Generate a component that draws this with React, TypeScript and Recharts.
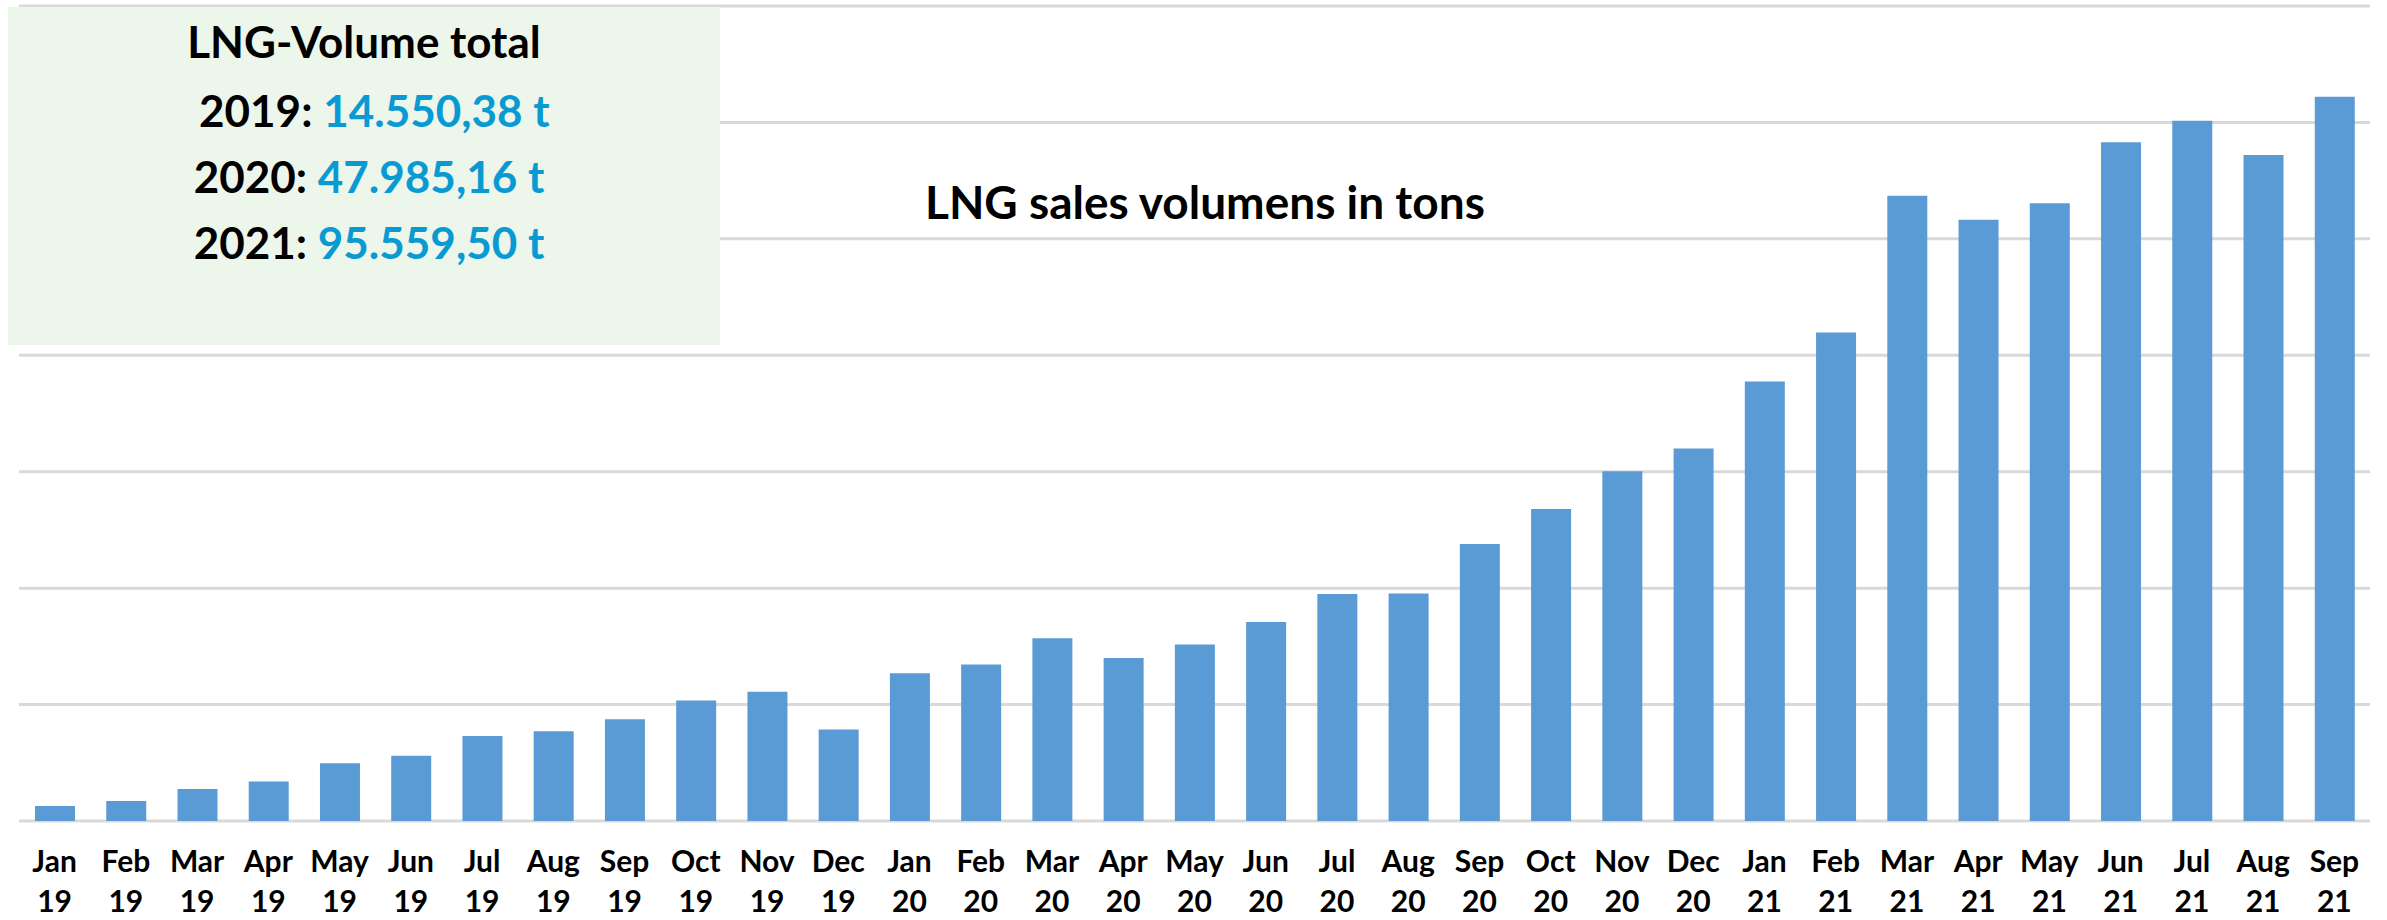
import React from 'react';
import { BarChart, Bar, XAxis, YAxis, CartesianGrid } from 'recharts';

const months = ['Jan', 'Feb', 'Mar', 'Apr', 'May', 'Jun', 'Jul', 'Aug', 'Sep', 'Oct', 'Nov', 'Dec'];

// monthly LNG sales in tons
const volumes2019 = [258, 344, 550, 680, 990, 1120, 1460, 1540, 1750, 2070, 2220, 1570];
const volumes2020 = [2540, 2690, 3140, 2800, 3030, 3420, 3900, 3910, 4760, 5360, 6010, 6400];
const volumes2021 = [7550, 8390, 10740, 10330, 10610, 11660, 12030, 11440, 12440];

const yearTotals = [
  { year: '2019', total: '14.550,38 t', lead: ' ' },
  { year: '2020', total: '47.985,16 t', lead: '' },
  { year: '2021', total: '95.559,50 t', lead: '' },
];

const yTicks = [0, 2000, 4000, 6000, 8000, 10000, 12000, 14000];

const data = [
  ...volumes2019.map((v, i) => ({ label: `${months[i]} 19`, tons: v })),
  ...volumes2020.map((v, i) => ({ label: `${months[i]} 20`, tons: v })),
  ...volumes2021.map((v, i) => ({ label: `${months[i]} 21`, tons: v })),
];

const FONT = 'Lato, "Open Sans", sans-serif';
const BLUE = '#0a9ad3';

function MonthTick(props: any) {
  const { x, y, payload } = props;
  const [m, yr] = String(payload.value).split(' ');
  return (
    <text
      x={x}
      textAnchor="middle"
      fontFamily={FONT}
      fontWeight={700}
      fontSize={30}
      fill="#000"
    >
      <tspan x={x} y={y + 51}>{m}</tspan>
      <tspan x={x} y={y + 91}>{yr}</tspan>
    </text>
  );
}

export default function App() {
  return (
    <div style={{ position: 'fixed', left: 0, top: 0, width: 2387, height: 920, background: '#fff' }}>
      <BarChart
        width={2387}
        height={920}
        data={data}
        margin={{ top: 6, right: 17, left: 19, bottom: 0 }}
      >
        <CartesianGrid vertical={false} stroke="#d9d9d9" strokeWidth={3} />
        <YAxis hide domain={[0, 14000]} ticks={yTicks} />
        <XAxis
          dataKey="label"
          height={99}
          axisLine={false}
          tickLine={false}
          tickSize={0}
          tickMargin={0}
          interval={0}
          tick={<MonthTick />}
        />
        <Bar dataKey="tons" fill="#5b9bd5" barSize={40} isAnimationActive={false} />
      </BarChart>

      <div
        style={{
          position: 'absolute',
          left: 8,
          top: 7,
          width: 712,
          height: 338,
          background: '#ecf6ea',
          fontFamily: FONT,
          fontWeight: 700,
          fontSize: 44,
          textAlign: 'center',
          color: '#000',
        }}
      >
        <div style={{ position: 'absolute', left: 0, right: 0, top: 7, lineHeight: '54px' }}>
          LNG-Volume total
        </div>
        {yearTotals.map((t, i) => (
          <div
            key={t.year}
            style={{ position: 'absolute', left: 10, right: 0, top: 76 + i * 66, lineHeight: '54px', whiteSpace: 'pre' }}
          >
            {t.lead}
            {t.year}: <span style={{ color: BLUE }}>{t.total}</span>
          </div>
        ))}
      </div>

      <div
        style={{
          position: 'absolute',
          left: 925,
          top: 175,
          fontFamily: FONT,
          fontWeight: 700,
          fontSize: 46,
          lineHeight: '54px',
          color: '#000',
          whiteSpace: 'nowrap',
        }}
      >
        LNG sales volumens in tons
      </div>
    </div>
  );
}
